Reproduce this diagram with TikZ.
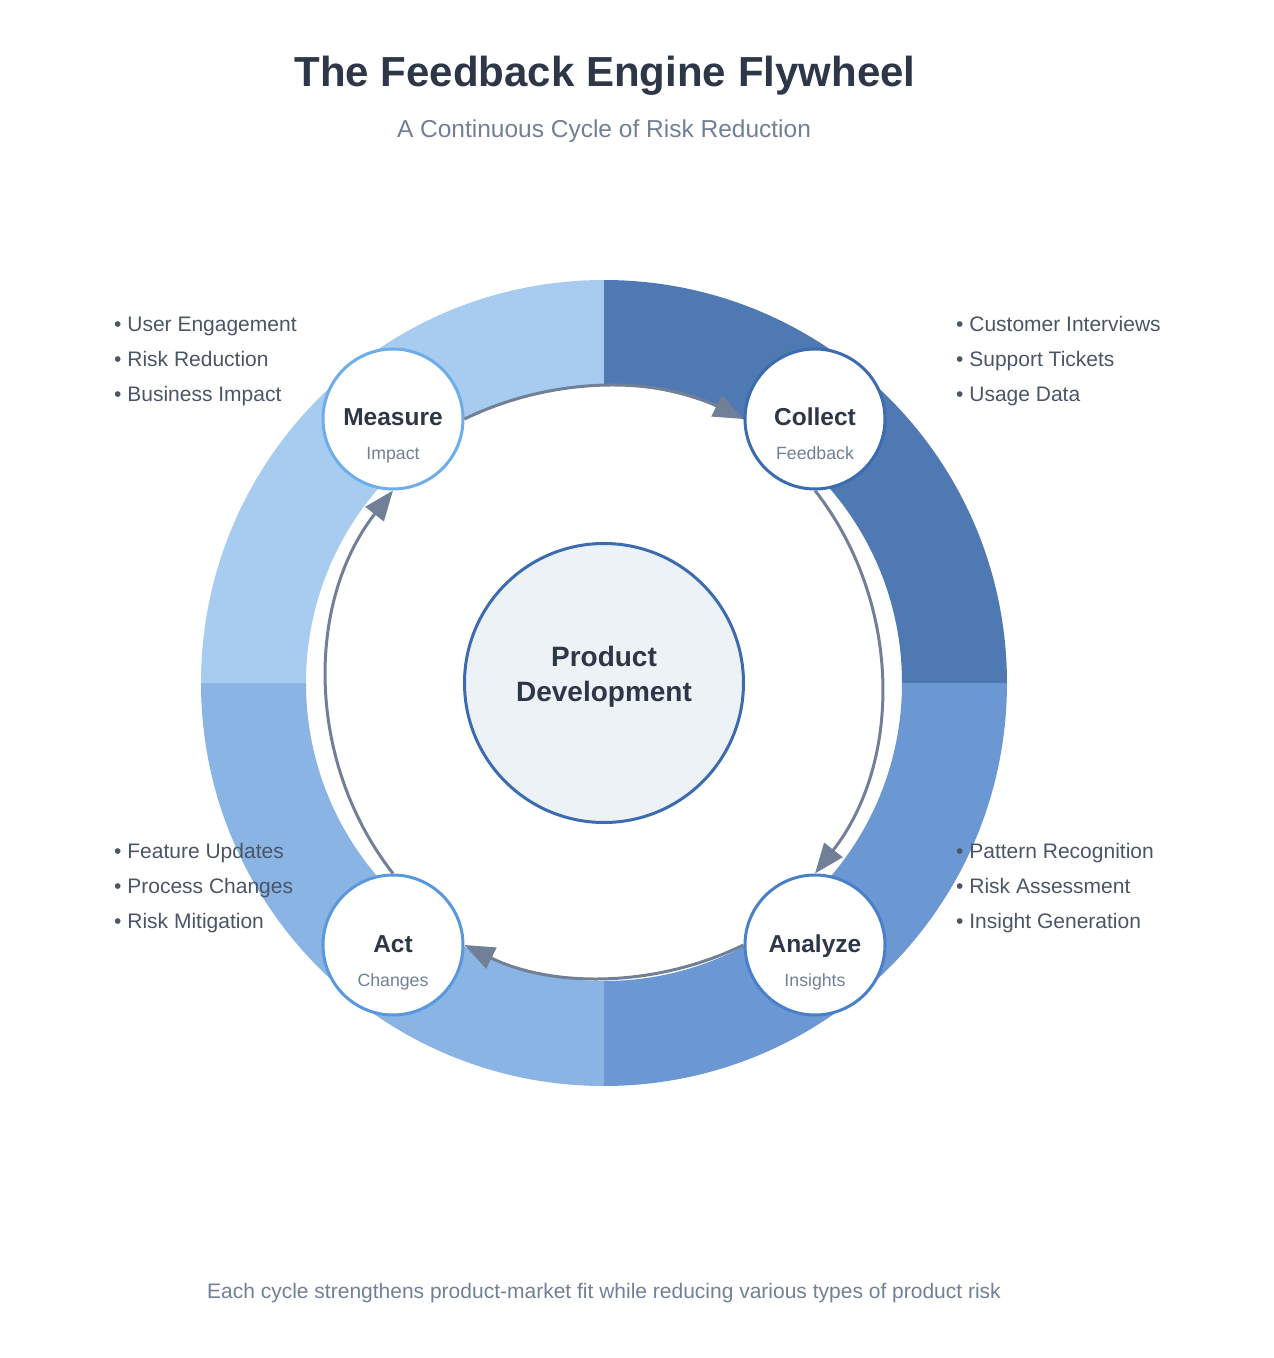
\documentclass[tikz,border=0pt]{standalone}
\usepackage{fontspec}
\setmainfont{Liberation Sans}
\usetikzlibrary{arrows.meta}
\definecolor{ink}{HTML}{2D3748}
\definecolor{slate}{HTML}{718096}
\definecolor{bodytext}{HTML}{4A5568}
\definecolor{collectfill}{HTML}{4E79B2}
\definecolor{analyzefill}{HTML}{6B98D3}
\definecolor{actfill}{HTML}{8AB4E4}
\definecolor{measurefill}{HTML}{A8CCEF}
\definecolor{collectline}{HTML}{3C6BAF}
\definecolor{analyzeline}{HTML}{4A80C9}
\definecolor{actline}{HTML}{5A98DD}
\definecolor{measureline}{HTML}{6CADEA}
\definecolor{hubfill}{HTML}{EDF2F7}

\begin{document}
\begin{tikzpicture}[x=1pt,y=1pt]
\tikzstyle{every node}+=[inner sep=0pt]
\tikzstyle{stepnode}=[circle, fill=white, line width=3pt, minimum size=140pt]
\tikzstyle{steptitle}=[anchor=base, text=ink, font=\bfseries\fontsize{24.5}{29}\selectfont]
\tikzstyle{stepsub}=[anchor=base, text=slate, font=\fontsize{17.7}{21}\selectfont]
\tikzstyle{item}=[anchor=base west, text=bodytext, font=\fontsize{21}{25}\selectfont]
\tikzstyle{flow}=[draw=slate, line width=3pt, -{Triangle[length=30pt,width=23pt]}]
\useasboundingbox (-604,-675) rectangle (670,683);

\node[anchor=base, text=ink, font=\bfseries\fontsize{42}{50}\selectfont] (title) at (1,596) {The Feedback Engine Flywheel};
\node[anchor=base, text=slate, font=\fontsize{24.5}{29}\selectfont] (subtitle) at (0,545) {A Continuous Cycle of Risk Reduction};

\foreach \a/\c in {90/collectfill, 0/analyzefill, 270/actfill, 180/measurefill}
  \fill[\c] (\a:403) arc[start angle=\a, end angle={\a-90}, radius=403] -- ({\a-90}:298) arc[start angle={\a-90}, end angle=\a, radius=298] -- cycle;

\node[circle, draw=collectline, fill=hubfill, line width=3pt, minimum size=279pt] (hub) at (0,0) {};
\node[anchor=base, text=ink, align=center, font=\bfseries\fontsize{28}{35}\selectfont] (hubtext) at (0,-18) {Product\\Development};

\node[stepnode, draw=measureline] (measure) at (-211,264) {};
\node[stepnode, draw=collectline] (collect) at (211,264) {};
\node[stepnode, draw=analyzeline] (analyze) at (211,-262) {};
\node[stepnode, draw=actline] (act) at (-211,-262) {};
\node[steptitle] (measuret) at ([yshift=-7]measure.center) {Measure};
\node[stepsub] (measures) at ([yshift=-41]measure.center) {Impact};
\node[steptitle] (collectt) at ([yshift=-7]collect.center) {Collect};
\node[stepsub] (collects) at ([yshift=-41]collect.center) {Feedback};
\node[steptitle] (analyzet) at ([yshift=-7]analyze.center) {Analyze};
\node[stepsub] (analyzes) at ([yshift=-41]analyze.center) {Insights};
\node[steptitle] (actt) at ([yshift=-7]act.center) {Act};
\node[stepsub] (acts) at ([yshift=-41]act.center) {Changes};

\draw[flow] (measure.east) to[bend left=26, looseness=0.9] (collect.west);
\draw[flow] (collect.south) to[bend left=38, looseness=0.95] (analyze.north);
\draw[flow] (analyze.west) to[bend left=26, looseness=0.9] (act.east);
\draw[flow] (act.north) to[bend left=38, looseness=0.95] (measure.south);

\foreach \t [count=\i] in {User Engagement, Risk Reduction, Business Impact}
  \node[item] (measure-\i) at (-490,386-35*\i) {• \t};
\foreach \t [count=\i] in {Customer Interviews, Support Tickets, Usage Data}
  \node[item] (collect-\i) at (352,386-35*\i) {• \t};
\foreach \t [count=\i] in {Pattern Recognition, Risk Assessment, Insight Generation}
  \node[item] (analyze-\i) at (352,-140-35*\i) {• \t};
\foreach \t [count=\i] in {Feature Updates, Process Changes, Risk Mitigation}
  \node[item] (act-\i) at (-490,-140-35*\i) {• \t};

\node[anchor=base, text=slate, font=\fontsize{21}{25}\selectfont] (footer) at (0,-615) {Each cycle strengthens product-market fit while reducing various types of product risk};
\end{tikzpicture}
\end{document}
